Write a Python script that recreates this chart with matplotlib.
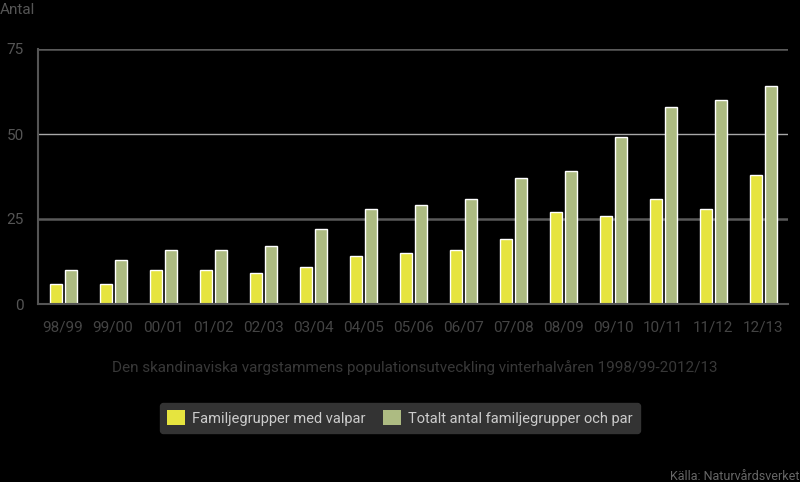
import matplotlib.pyplot as plt
import numpy as np

plt.rcParams['font.family'] = ['Roboto', 'DejaVu Sans']

# Data: wolf population in Scandinavia, winters 1998/99 - 2012/13
seasons = ['98/99', '99/00', '00/01', '01/02', '02/03', '03/04', '04/05', '05/06',
           '06/07', '07/08', '08/09', '09/10', '10/11', '11/12', '12/13']
med_valpar = [6, 6, 10, 10, 9, 11, 14, 15, 16, 19, 27, 26, 31, 28, 38]
totalt = [10, 13, 16, 16, 17, 22, 28, 29, 31, 37, 39, 49, 58, 60, 64]
y_ticks = [0, 25, 50, 75]

yellow = '#e6e43f'
green = '#adbb82'

fig = plt.figure(figsize=(8, 4.82), dpi=100)
fig.patch.set_facecolor('black')
ax = fig.add_axes([38 / 800, 1 - 304 / 482, 750 / 800, 255 / 482])
ax.set_facecolor('black')

x = np.arange(len(seasons))
w = 0.24
b1 = ax.bar(x - 0.15, med_valpar, w, color=yellow, edgecolor='white', linewidth=1,
            label='Familjegrupper med valpar', zorder=3)
b2 = ax.bar(x + 0.15, totalt, w, color=green, edgecolor='white', linewidth=1,
            label='Totalt antal familjegrupper och par', zorder=3)

ax.set_xlim(-0.5, len(seasons) - 0.5)
ax.set_ylim(0, 75)
ax.set_yticks(y_ticks)
ax.set_xticks(x)
ax.set_xticklabels(seasons)

# grid lines: 50 lighter, 25/75 darker
for v in y_ticks[1:]:
    col = '#a8a8a8' if v == 50 else '#5a5a5a'
    lw = 1.0 if v == 50 else 1.8
    ax.axhline(v, color=col, linewidth=lw, zorder=1)

for s in ['top', 'right']:
    ax.spines[s].set_visible(False)
ax.spines['left'].set_color('#555555')
ax.spines['left'].set_linewidth(1.5)
ax.spines['bottom'].set_color('#555555')
ax.spines['bottom'].set_linewidth(1.5)
ax.spines['bottom'].set_zorder(4)

ax.tick_params(axis='both', length=0, labelsize=11)
ax.tick_params(axis='x', colors='#444444', pad=12)
ax.tick_params(axis='y', colors='#555555', pad=10)

fig.text(0.0, 1 - 10 / 482, 'Antal', color='#555555', fontsize=11, va='center', ha='left')
fig.text(415 / 800, 1 - 368 / 482,
         'Den skandinaviska vargstammens populationsutveckling vinterhalvåren 1998/99-2012/13',
         color='#383838', fontsize=11, ha='center', va='center')
fig.text(1.0, 1 - 476 / 482, 'Källa: Naturvårdsverket', color='#666666', fontsize=9,
         ha='right', va='center')

leg = fig.legend(handles=[b1, b2], loc='center', bbox_to_anchor=(400 / 800, 1 - 418 / 482),
                 ncol=2, frameon=True, facecolor='#333333', edgecolor='#333333',
                 fontsize=10.5, handlelength=1.2, handleheight=1.2, handletextpad=0.5,
                 columnspacing=1.2, borderpad=0.5, fancybox=True)
leg.get_frame().set_alpha(1)
for t in leg.get_texts():
    t.set_color('#cccccc')
for h in leg.legend_handles:
    h.set_edgecolor('none')

fig.savefig('out.png', dpi=100, facecolor='black')
